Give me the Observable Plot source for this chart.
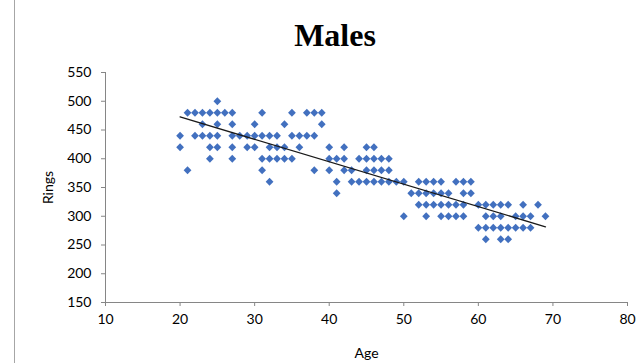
<!DOCTYPE html>
<html><head><meta charset="utf-8">
<script src="https://cdn.jsdelivr.net/npm/d3@7"></script>
<script src="https://cdn.jsdelivr.net/npm/@observablehq/plot@0.6"></script>
<style>
body{margin:0;background:#fff;}
#wrap{position:relative;width:636px;height:363px;overflow:hidden;}
#border{position:absolute;left:14px;top:0;width:1px;height:363px;background:#a6a6a6;}
#title{position:absolute;left:0;width:670px;top:17px;line-height:32px;text-align:center;font:bold 32px "Liberation Serif",serif;color:#000;}
#chart{position:absolute;left:0;top:0;}
</style></head><body>
<div id="wrap"><div id="border"></div><div id="title"></div><div id="chart"></div></div>
<script>
const title = "Males";
const xLabel = "Age";
const yLabel = "Rings";
const xTicks = [10, 20, 30, 40, 50, 60, 70, 80];
const yTicks = [150, 200, 250, 300, 350, 400, 450, 500, 550];

// Rings value of each row of points, and the ages at which a point sits in that row
const ringLevels = [500, 480, 460, 440, 420, 400, 380, 360, 340, 320, 300, 280, 260];
const agesAtLevel = [
  [25],
  [21, 22, 23, 24, 25, 26, 27, 31, 35, 37, 38, 39],
  [23, 25, 27, 30, 34, 39],
  [20, 22, 23, 24, 25, 27, 28, 29, 30, 31, 32, 33, 35, 36, 37, 38],
  [20, 24, 25, 27, 29, 30, 32, 33, 34, 36, 40, 42, 45, 46],
  [24, 27, 31, 32, 33, 34, 35, 40, 41, 42, 44, 45, 46, 47, 48],
  [21, 31, 38, 40, 42, 43, 45, 46, 47, 48],
  [32, 41, 43, 44, 45, 46, 47, 48, 49, 50, 52, 53, 54, 55, 57, 58, 59],
  [41, 51, 52, 53, 54, 55, 56, 58, 59],
  [52, 53, 54, 55, 56, 57, 58, 60, 61, 62, 63, 64, 66, 68],
  [50, 53, 55, 56, 57, 58, 61, 62, 63, 65, 66, 67, 69],
  [60, 61, 62, 63, 64, 65, 66, 67],
  [61, 63, 64]
];

const points = [];
ringLevels.forEach((r, i) => agesAtLevel[i].forEach(a => points.push({age: a, rings: r})));

document.getElementById("title").textContent = title;

const chart = Plot.plot({
  width: 636, height: 363,
  marginTop: 72, marginBottom: 61, marginLeft: 105, marginRight: 9,
  style: {fontFamily: "Lato, 'Open Sans', sans-serif", fontSize: "14px", color: "#000", background: "transparent"},
  x: {domain: [10, 80]},
  y: {domain: [150, 550]},
  marks: [
    Plot.axisX({ticks: xTicks, tickSize: 4, tickPadding: 8, stroke: "#868686", fill: "#000",
      label: xLabel, labelAnchor: "center", labelArrow: "none", labelOffset: 55}),
    Plot.axisY({ticks: yTicks, tickSize: 4, tickPadding: 10, stroke: "#868686", fill: "#000",
      label: yLabel, labelAnchor: "center", labelArrow: "none", labelOffset: 62}),
    Plot.ruleY([150], {stroke: "#868686"}),
    Plot.ruleX([10], {stroke: "#868686"}),
    Plot.dot(points, {x: "age", y: "rings", symbol: "diamond2", r: 3.5, fill: "#4270BF", stroke: "none"}),
    Plot.linearRegressionY(points, {x: "age", y: "rings", stroke: "#1a1a1a", strokeWidth: 1.3, ci: 0})
  ]
});
document.getElementById("chart").appendChild(chart);
</script>
</body></html>
